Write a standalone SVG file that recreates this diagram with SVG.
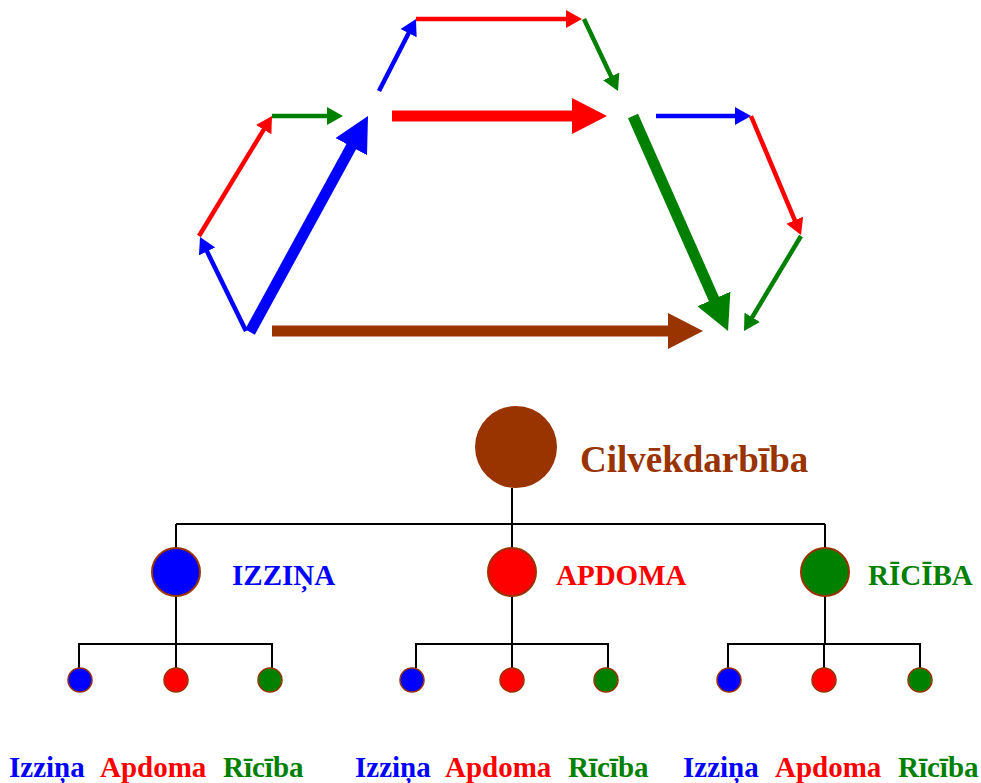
<svg xmlns="http://www.w3.org/2000/svg" width="981" height="783" viewBox="0 0 981 783">
<style>
.s{stroke-width:4.5;fill:none}
.b{stroke-width:11;fill:none}
.blue{stroke:#0000FF}.red{stroke:#FF0000}.green{stroke:#008000}.brown{stroke:#993300}
.tl{stroke:#000;stroke-width:2;fill:none}
.t{font-family:"Liberation Serif","Times New Roman",serif;font-weight:bold}
.l2{font-size:29px}
.l3{font-size:29px}
.n2{stroke:#993300;stroke-width:2}
.n3{stroke:#993300;stroke-width:1.5}
</style>
<defs>
<marker id="sb" markerUnits="userSpaceOnUse" viewBox="0 -9 16 18" markerWidth="16" markerHeight="18" refX="1" refY="0" orient="auto"><path d="M0,-9 L16,0 L0,9 z" fill="#0000FF"/></marker>
<marker id="sr" markerUnits="userSpaceOnUse" viewBox="0 -9 16 18" markerWidth="16" markerHeight="18" refX="1" refY="0" orient="auto"><path d="M0,-9 L16,0 L0,9 z" fill="#FF0000"/></marker>
<marker id="sg" markerUnits="userSpaceOnUse" viewBox="0 -9 16 18" markerWidth="16" markerHeight="18" refX="1" refY="0" orient="auto"><path d="M0,-9 L16,0 L0,9 z" fill="#008000"/></marker>
<marker id="bb" markerUnits="userSpaceOnUse" viewBox="0 -18 35 36" markerWidth="35" markerHeight="36" refX="1" refY="0" orient="auto"><path d="M0,-18 L35,0 L0,18 z" fill="#0000FF"/></marker>
<marker id="br" markerUnits="userSpaceOnUse" viewBox="0 -18 35 36" markerWidth="35" markerHeight="36" refX="1" refY="0" orient="auto"><path d="M0,-18 L35,0 L0,18 z" fill="#FF0000"/></marker>
<marker id="bg" markerUnits="userSpaceOnUse" viewBox="0 -18 35 36" markerWidth="35" markerHeight="36" refX="1" refY="0" orient="auto"><path d="M0,-18 L35,0 L0,18 z" fill="#008000"/></marker>
<marker id="bn" markerUnits="userSpaceOnUse" viewBox="0 -18 35 36" markerWidth="35" markerHeight="36" refX="1" refY="0" orient="auto"><path d="M0,-18 L35,0 L0,18 z" fill="#993300"/></marker>
</defs>

<g id="connectors">
<line class="s blue" x1="246" y1="331" x2="206.6" y2="250.5" marker-end="url(#sb)"/>
<line class="s red" x1="199" y1="236" x2="264.2" y2="128.8" marker-end="url(#sr)"/>
<line class="s green" x1="272" y1="116" x2="328" y2="116" marker-end="url(#sg)"/>
<line class="s blue" x1="379" y1="91" x2="409.1" y2="32.3" marker-end="url(#sb)"/>
<line class="s red" x1="416" y1="19" x2="567" y2="19" marker-end="url(#sr)"/>
<line class="s green" x1="584" y1="19" x2="611.6" y2="77.4" marker-end="url(#sg)"/>
<line class="s blue" x1="656" y1="116" x2="736" y2="116" marker-end="url(#sb)"/>
<line class="s red" x1="751" y1="116" x2="795.2" y2="221.2" marker-end="url(#sr)"/>
<line class="s green" x1="801" y1="236" x2="751.7" y2="318.1" marker-end="url(#sg)"/>
<line class="b blue" x1="250" y1="332" x2="351.7" y2="145.8" marker-end="url(#bb)"/>
<line class="b red" x1="392" y1="116" x2="573" y2="116" marker-end="url(#br)"/>
<line class="b green" x1="633" y1="116" x2="714.3" y2="299.9" marker-end="url(#bg)"/>
<line class="b brown" x1="272" y1="331" x2="669" y2="331" marker-end="url(#bn)"/>
<path class="tl" d="M512,488 V524 M176,524 H825 M176,524 V644 M512,524 V644 M825,524 V644"/>
<path class="tl" d="M79,668 V644 H272 V668 M176,644 V668"/>
<path class="tl" d="M416,668 V644 H608 V668 M512,644 V668"/>
<path class="tl" d="M728,668 V644 H920 V668 M824,644 V668"/>
</g>

<g id="root">
<circle cx="516" cy="447" r="41" fill="#993300"/>
<text class="t" x="580" y="472" font-size="37" fill="#993300">Cilvēkdarbība</text>
</g>

<g id="izzina">
<circle class="n2" cx="176" cy="572" r="24" fill="#0000FF"/>
<text class="t l2" x="232" y="585" fill="#0000FF">IZZIŅA</text>
</g>
<g id="apdoma">
<circle class="n2" cx="512" cy="572" r="24" fill="#FF0000"/>
<text class="t l2" x="556" y="585" fill="#FF0000">APDOMA</text>
</g>
<g id="riciba">
<circle class="n2" cx="825" cy="572" r="24" fill="#008000"/>
<text class="t l2" x="868" y="585" fill="#008000">RĪCĪBA</text>
</g>

<g id="g1-izzina"><circle class="n3" cx="80" cy="680" r="12" fill="#0000FF"/><text class="t l3" x="9" y="777" fill="#0000FF">Izziņa</text></g>
<g id="g1-apdoma"><circle class="n3" cx="176" cy="680" r="12" fill="#FF0000"/><text class="t l3" x="100" y="777" fill="#FF0000">Apdoma</text></g>
<g id="g1-riciba"><circle class="n3" cx="270" cy="680" r="12" fill="#008000"/><text class="t l3" x="223" y="777" fill="#008000">Rīcība</text></g>

<g id="g2-izzina"><circle class="n3" cx="412" cy="680" r="12" fill="#0000FF"/><text class="t l3" x="355" y="777" fill="#0000FF">Izziņa</text></g>
<g id="g2-apdoma"><circle class="n3" cx="512" cy="680" r="12" fill="#FF0000"/><text class="t l3" x="445" y="777" fill="#FF0000">Apdoma</text></g>
<g id="g2-riciba"><circle class="n3" cx="606" cy="680" r="12" fill="#008000"/><text class="t l3" x="568" y="777" fill="#008000">Rīcība</text></g>

<g id="g3-izzina"><circle class="n3" cx="729" cy="680" r="12" fill="#0000FF"/><text class="t l3" x="683" y="777" fill="#0000FF">Izziņa</text></g>
<g id="g3-apdoma"><circle class="n3" cx="824" cy="680" r="12" fill="#FF0000"/><text class="t l3" x="775" y="777" fill="#FF0000">Apdoma</text></g>
<g id="g3-riciba"><circle class="n3" cx="920" cy="680" r="12" fill="#008000"/><text class="t l3" x="898" y="777" fill="#008000">Rīcība</text></g>
</svg>
